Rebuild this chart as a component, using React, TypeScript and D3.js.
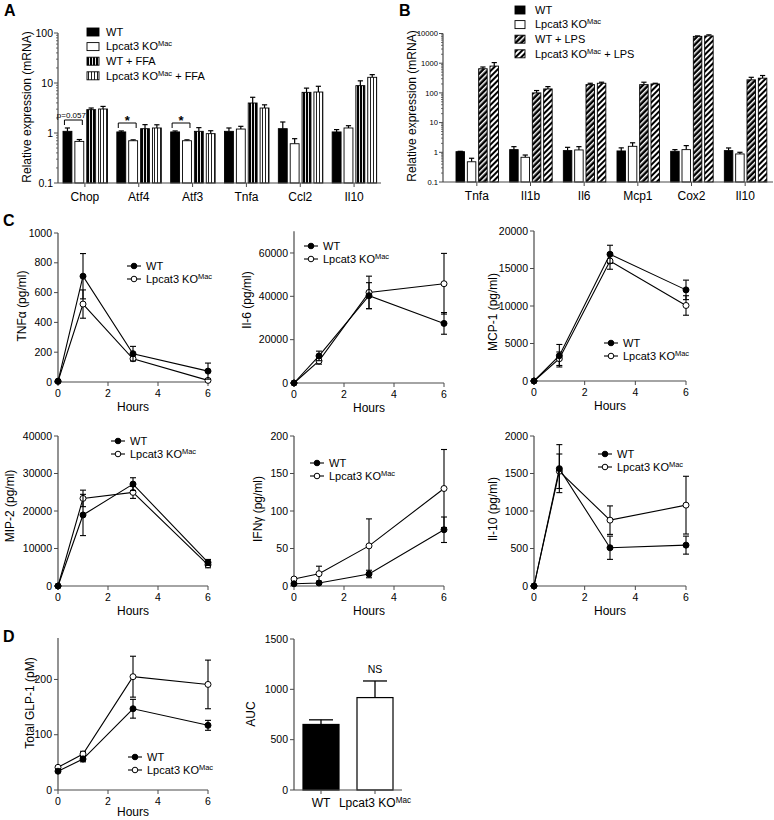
import React from "react";
import * as d3 from "d3";

const FONT = "'Liberation Sans', Arial, Helvetica, sans-serif";
const AX = "#4a4a4a";

// ---------- Panel A ----------
const A_GENES = ["Chop", "Atf4", "Atf3", "Tnfa", "Ccl2", "Il10"];
const A_SERIES = ["WT", "KO", "WT+FFA", "KO+FFA"];
const A_WT = [1.08, 1.05, 1.05, 1.08, 1.22, 1.05];
const A_WT_ERR = [0.18, 0.05, 0.05, 0.18, 0.44, 0.12];
const A_KO = [0.68, 0.7, 0.7, 1.2, 0.61, 1.26];
const A_KO_ERR = [0.06, 0.03, 0.03, 0.16, 0.16, 0.14];
const A_WTFFA = [2.93, 1.22, 1.08, 3.98, 6.5, 8.85];
const A_WTFFA_ERR = [0.23, 0.25, 0.2, 1.2, 1.4, 2.2];
const A_KOFFA = [3.02, 1.26, 0.97, 3.16, 6.6, 13];
const A_KOFFA_ERR = [0.38, 0.2, 0.14, 0.5, 2.0, 1.7];
const A_TICKS = [0.1, 1, 10, 100];

// ---------- Panel B ----------
const B_GENES = ["Tnfa", "Il1b", "Il6", "Mcp1", "Cox2", "Il10"];
const B_SERIES = ["WT", "KO", "WT+LPS", "KO+LPS"];
const B_WT = [1.05, 1.23, 1.14, 1.11, 1.08, 1.14];
const B_WT_ERR = [0.03, 0.32, 0.33, 0.3, 0.15, 0.26];
const B_KO = [0.48, 0.68, 1.2, 1.59, 1.23, 0.88];
const B_KO_ERR = [0.15, 0.13, 0.35, 0.5, 0.45, 0.12];
const B_WTLPS = [650, 100, 190, 190, 8000, 275];
const B_WTLPS_ERR = [95, 20, 21, 39, 300, 60];
const B_KOLPS = [800, 136, 211, 200, 8300, 313];
const B_KOLPS_ERR = [250, 27, 18, 11, 700, 72];
const B_TICKS = [0.1, 1, 10, 100, 1000, 10000];

// ---------- Panel C / D time courses ----------
const HOURS = [0, 1, 3, 6];
const HOUR_TICKS = [0, 2, 4, 6];
const TNF_WT = [5, 710, 190, 73];
const TNF_WT_ERR = [3, 152, 49, 54];
const TNF_KO = [5, 523, 156, 11];
const TNF_KO_ERR = [2, 95, 12, 8];
const IL6_WT = [0, 12500, 40300, 27500];
const IL6_WT_ERR = [300, 2200, 6000, 5000];
const IL6_KO = [0, 10200, 41800, 45800];
const IL6_KO_ERR = [300, 1500, 7500, 14000];
const MCP1_WT = [0, 3370, 16900, 12150];
const MCP1_WT_ERR = [100, 1500, 1200, 1300];
const MCP1_KO = [0, 2970, 16000, 10070];
const MCP1_KO_ERR = [100, 900, 1100, 1300];
const MIP2_WT = [0, 18940, 27170, 6280];
const MIP2_WT_ERR = [100, 5500, 1700, 800];
const MIP2_KO = [0, 23360, 24960, 5660];
const MIP2_KO_ERR = [100, 2200, 1600, 800];
const IFNG_WT = [3, 4, 16, 75];
const IFNG_WT_ERR = [1, 1, 5, 17];
const IFNG_KO = [9.3, 16.4, 53.5, 130];
const IFNG_KO_ERR = [2, 10, 36, 52];
const IL10_WT = [0, 1565, 510, 545];
const IL10_WT_ERR = [10, 320, 155, 120];
const IL10_KO = [0, 1530, 878, 1078];
const IL10_KO_ERR = [10, 230, 190, 385];
const GLP_WT = [34, 56, 147, 117];
const GLP_WT_ERR = [2, 5, 17, 9];
const GLP_KO = [41, 65, 205, 191];
const GLP_KO_ERR = [2, 5, 37, 44];
const AUC_GROUPS = ["WT", "KO"];
const AUC_VALUES = [651, 918];
const AUC_ERR = [46, 165];

const KOText = ({ suffix = "" }: { suffix?: string }) => (
  <>
    <tspan>Lpcat3 KO</tspan>
    <tspan dy={-4} fontSize="0.68em">Mac</tspan>
    <tspan dy={4}>{suffix}</tspan>
  </>
);

const fmtLog = (v: number) => (v < 1 ? "0.1" : String(v));

function YLabel({ x, y, children }: any) {
  return (
    <text transform={`translate(${x},${y}) rotate(-90)`} textAnchor="middle" dy="0.35em" fontSize={12}>
      {children}
    </text>
  );
}

function LogBarChart(props: any) {
  const { cats, series, values, errs, fills, yScale, axisX, axisRight, bandRange, inner, ticks, tickFs } = props;
  const band = d3.scaleBand<string>().domain(cats).range(bandRange);
  const sub = d3.scaleBand<string>().domain(series).range(inner).paddingInner(0.25);
  const [ymin, ymax] = yScale.domain();
  const base = yScale(ymin);
  const minor: number[] = [];
  for (let d = ymin; d < ymax * 0.99; d *= 10) for (let k = 2; k <= 9; k++) minor.push(d * k);
  return (
    <g>
      {series.map((s: string, si: number) =>
        cats.map((c: string, ci: number) => {
          const v = values[si][ci];
          const e = errs[si][ci];
          const x = (band(c) as number) + (sub(s) as number);
          const w = sub.bandwidth();
          const cx = x + w / 2;
          return (
            <g key={s + c}>
              <line x1={cx} x2={cx} y1={yScale(v)} y2={yScale(v + e)} stroke="#000" strokeWidth={1.2} />
              <line x1={cx - 2.6} x2={cx + 2.6} y1={yScale(v + e)} y2={yScale(v + e)} stroke="#000" strokeWidth={1.2} />
              <rect x={x} y={yScale(v)} width={w} height={base - yScale(v)} fill={fills[si]} stroke="#000" strokeWidth={0.9} />
            </g>
          );
        })
      )}
      <line x1={axisX} x2={axisX} y1={base} y2={yScale(ymax)} stroke={AX} strokeWidth={1.2} />
      <line x1={axisX} x2={axisRight} y1={base} y2={base} stroke={AX} strokeWidth={1.2} />
      {minor.map((m) => (
        <line key={m} x1={axisX - 2} x2={axisX} y1={yScale(m)} y2={yScale(m)} stroke={AX} strokeWidth={0.8} />
      ))}
      {ticks.map((t: number) => (
        <g key={t}>
          <line x1={axisX - 4} x2={axisX} y1={yScale(t)} y2={yScale(t)} stroke={AX} strokeWidth={1} />
          <text x={axisX - 5} y={yScale(t)} dy="0.35em" textAnchor="end" fontSize={tickFs}>
            {fmtLog(t)}
          </text>
        </g>
      ))}
      {cats.map((c: string) => {
        const cx = (band(c) as number) + band.bandwidth() / 2;
        return (
          <g key={c}>
            <line x1={cx} x2={cx} y1={base} y2={base + 4} stroke={AX} strokeWidth={1} />
            <text x={cx} y={base + 18} textAnchor="middle" fontSize={12}>
              {c}
            </text>
          </g>
        );
      })}
    </g>
  );
}

function LinePanel(props: any) {
  const { xr, y0, yTopPx, ymax, yticks, wt, wtE, ko, koE, leg, hoursDy = 29 } = props;
  const x = d3.scaleLinear().domain([0, 6]).range(xr);
  const y = d3.scaleLinear().domain([0, ymax]).range([y0, yTopPx]);
  const line = d3
    .line<number>()
    .x((_, i) => x(HOURS[i]))
    .y((d) => y(d));
  const series = [
    { v: ko, e: koE, fill: "#fff" },
    { v: wt, e: wtE, fill: "#000" },
  ];
  return (
    <g>
      <line x1={xr[0]} x2={xr[0]} y1={y0} y2={y(ymax)} stroke={AX} strokeWidth={1.2} />
      <line x1={xr[0]} x2={xr[1]} y1={y0} y2={y0} stroke={AX} strokeWidth={1.2} />
      {yticks.map((t: number) => (
        <g key={t}>
          <line x1={xr[0] - 4} x2={xr[0]} y1={y(t)} y2={y(t)} stroke={AX} strokeWidth={1} />
          <text x={xr[0] - 6} y={y(t)} dy="0.35em" textAnchor="end" fontSize={10.5}>
            {t}
          </text>
        </g>
      ))}
      {HOUR_TICKS.map((t) => (
        <g key={t}>
          <line x1={x(t)} x2={x(t)} y1={y0} y2={y0 + 4} stroke={AX} strokeWidth={1} />
          <text x={x(t)} y={y0 + 15} textAnchor="middle" fontSize={10.5}>
            {t}
          </text>
        </g>
      ))}
      <text x={(xr[0] + xr[1]) / 2} y={y0 + hoursDy} textAnchor="middle" fontSize={12}>
        Hours
      </text>
      {series.map((s, si) => (
        <g key={si}>
          <path d={line(s.v) as string} fill="none" stroke="#000" strokeWidth={1.1} />
          {s.v.map((v: number, i: number) => {
            const cx = x(HOURS[i]);
            const e = s.e[i];
            return (
              <g key={i}>
                <line x1={cx} x2={cx} y1={y(v - e)} y2={y(v + e)} stroke="#000" strokeWidth={1.1} />
                <line x1={cx - 3} x2={cx + 3} y1={y(v + e)} y2={y(v + e)} stroke="#000" strokeWidth={1.1} />
                <line x1={cx - 3} x2={cx + 3} y1={y(v - e)} y2={y(v - e)} stroke="#000" strokeWidth={1.1} />
              </g>
            );
          })}
          {s.v.map((v: number, i: number) => (
            <circle key={"m" + i} cx={x(HOURS[i])} cy={y(v)} r={3} fill={s.fill} stroke="#000" strokeWidth={1} />
          ))}
        </g>
      ))}
      <Legend x={leg[0]} y={leg[1]} />
    </g>
  );
}

function Legend({ x, y }: { x: number; y: number }) {
  const rows = [
    { fill: "#000", label: <tspan>WT</tspan> },
    { fill: "#fff", label: <KOText /> },
  ];
  return (
    <g>
      {rows.map((r, i) => (
        <g key={i} transform={`translate(${x},${y + i * 13})`}>
          <line x1={0} x2={14} y1={0} y2={0} stroke="#000" strokeWidth={1.1} />
          <circle cx={7} cy={0} r={2.8} fill={r.fill} stroke="#000" strokeWidth={1} />
          <text x={19} y={0} dy="0.35em" fontSize={11}>
            {r.label}
          </text>
        </g>
      ))}
    </g>
  );
}

function BarLegend({ x, textX, y, w, fills, labels }: any) {
  return (
    <g>
      {labels.map((l: any, i: number) => (
        <g key={i}>
          <rect x={x} y={y + i * 14.6 - 4} width={w} height={8} fill={fills[i]} stroke="#000" strokeWidth={0.9} />
          <text x={textX} y={y + i * 14.6} dy="0.35em" fontSize={11}>
            {l}
          </text>
        </g>
      ))}
    </g>
  );
}

export default function App() {
  const yA = d3.scaleLog().domain([0.1, 100]).range([183, 33]);
  const yB = d3.scaleLog().domain([0.1, 10000]).range([182, 33.5]);
  const bandA = d3.scaleBand<string>().domain(A_GENES).range([58, 381]);
  const subA = d3.scaleBand<string>().domain(A_SERIES).range([5, 49.5]).paddingInner(0.25);
  const barC = (g: string, s: string) => (bandA(g) as number) + (subA(s) as number) + subA.bandwidth() / 2;

  const fillsA = ["#000", "#fff", "url(#vDark)", "url(#vLight)"];
  const fillsB = ["#000", "#fff", "url(#dDark)", "url(#dLight)"];

  const aucX = d3.scaleBand<string>().domain(AUC_GROUPS).range([294, 402]).paddingInner(1 / 3).paddingOuter(1 / 6);
  const aucY = d3.scaleLinear().domain([0, 1500]).range([790, 639]);

  return (
    <svg
      width={774}
      height={820}
      style={{ position: "absolute", left: 0, top: 0, background: "#fff" }}
      fontFamily={FONT}
      fill="#000"
    >
      <defs>
        <pattern id="vDark" width={3} height={3} patternUnits="userSpaceOnUse">
          <rect width={3} height={3} fill="#000" />
          <rect x={2} width={0.9} height={3} fill="#fff" />
        </pattern>
        <pattern id="vLight" width={3} height={3} patternUnits="userSpaceOnUse">
          <rect width={3} height={3} fill="#fff" />
          <rect x={1} width={1} height={3} fill="#222" />
        </pattern>
        <pattern id="dDark" width={4} height={4} patternUnits="userSpaceOnUse" patternTransform="rotate(45)">
          <rect width={4} height={4} fill="#000" />
          <rect x={0} width={1.5} height={4} fill="#fff" />
        </pattern>
        <pattern id="dLight" width={4} height={4} patternUnits="userSpaceOnUse" patternTransform="rotate(45)">
          <rect width={4} height={4} fill="#fff" />
          <rect x={0} width={2} height={4} fill="#000" />
        </pattern>
      </defs>

      {/* Panel letters */}
      <text x={4} y={16} fontSize={16} fontWeight="bold">A</text>
      <text x={399} y={16} fontSize={16} fontWeight="bold">B</text>
      <text x={3} y={226} fontSize={16} fontWeight="bold">C</text>
      <text x={3} y={642} fontSize={16} fontWeight="bold">D</text>

      {/* Panel A */}
      <LogBarChart
        cats={A_GENES}
        series={A_SERIES}
        values={[A_WT, A_KO, A_WTFFA, A_KOFFA]}
        errs={[A_WT_ERR, A_KO_ERR, A_WTFFA_ERR, A_KOFFA_ERR]}
        fills={fillsA}
        yScale={yA}
        axisX={58}
        axisRight={381}
        bandRange={[58, 381]}
        inner={[5, 49.5]}
        ticks={A_TICKS}
        tickFs={10.5}
      />
      <YLabel x={27} y={107}>Relative expression (mRNA)</YLabel>
      <BarLegend
        x={87}
        textX={106}
        y={32}
        w={12}
        fills={fillsA}
        labels={[<tspan>WT</tspan>, <KOText />, <tspan>WT + FFA</tspan>, <KOText suffix=" + FFA" />]}
      />
      {[
        { g: "Chop", label: "p=0.057", top: 120, fs: 8, bold: false, ty: 117.5, dx: -2 },
        { g: "Atf4", label: "*", top: 123, fs: 13, bold: true, ty: 125, dx: 0 },
        { g: "Atf3", label: "*", top: 123, fs: 13, bold: true, ty: 125, dx: 0 },
      ].map((a) => {
        const l = barC(a.g, "WT") - 3;
        const r = barC(a.g, "KO") + 3;
        return (
          <g key={a.g}>
            <path d={`M${l},${a.top + 5}V${a.top}H${r}V${a.top + 5}`} fill="none" stroke="#000" strokeWidth={1} />
            <text x={(l + r) / 2 + a.dx} y={a.ty} textAnchor="middle" fontSize={a.fs} fontWeight={a.bold ? "bold" : "normal"}>
              {a.label}
            </text>
          </g>
        );
      })}

      {/* Panel B */}
      <LogBarChart
        cats={B_GENES}
        series={B_SERIES}
        values={[B_WT, B_KO, B_WTLPS, B_KOLPS]}
        errs={[B_WT_ERR, B_KO_ERR, B_WTLPS_ERR, B_KOLPS_ERR]}
        fills={fillsB}
        yScale={yB}
        axisX={443}
        axisRight={773}
        bandRange={[450, 772]}
        inner={[6, 48.5]}
        ticks={B_TICKS}
        tickFs={7.6}
      />
      <YLabel x={412} y={106}>Relative expression (mRNA)</YLabel>
      <BarLegend
        x={515}
        textX={535}
        y={10}
        w={10}
        fills={fillsB}
        labels={[<tspan>WT</tspan>, <KOText />, <tspan>WT + LPS</tspan>, <KOText suffix=" + LPS" />]}
      />

      {/* Panel C row 1 */}
      <LinePanel xr={[58, 208]} y0={382} yTopPx={233} ymax={1000} yticks={[0, 200, 400, 600, 800, 1000]}
        wt={TNF_WT} wtE={TNF_WT_ERR} ko={TNF_KO} koE={TNF_KO_ERR} leg={[127, 266]} />
      <YLabel x={22} y={306}>TNFα (pg/ml)</YLabel>

      <LinePanel xr={[294, 444]} y0={383} yTopPx={231.3} ymax={70000} yticks={[0, 20000, 40000, 60000]}
        wt={IL6_WT} wtE={IL6_WT_ERR} ko={IL6_KO} koE={IL6_KO_ERR} leg={[304, 246]} />
      <YLabel x={247} y={300}>Il-6 (pg/ml)</YLabel>

      <LinePanel xr={[534, 686]} y0={381} yTopPx={231} ymax={20000} yticks={[0, 5000, 10000, 15000, 20000]}
        wt={MCP1_WT} wtE={MCP1_WT_ERR} ko={MCP1_KO} koE={MCP1_KO_ERR} leg={[604, 343]} />
      <YLabel x={493} y={312}>MCP-1 (pg/ml)</YLabel>

      {/* Panel C row 2 */}
      <LinePanel xr={[58, 208]} y0={586} yTopPx={436} ymax={40000} yticks={[0, 10000, 20000, 30000, 40000]}
        wt={MIP2_WT} wtE={MIP2_WT_ERR} ko={MIP2_KO} koE={MIP2_KO_ERR} leg={[111, 441]} />
      <YLabel x={10} y={506}>MIP-2 (pg/ml)</YLabel>

      <LinePanel xr={[294, 444]} y0={586} yTopPx={436} ymax={200} yticks={[0, 50, 100, 150, 200]}
        wt={IFNG_WT} wtE={IFNG_WT_ERR} ko={IFNG_KO} koE={IFNG_KO_ERR} leg={[310, 463]} />
      <YLabel x={258} y={509}>IFNγ (pg/ml)</YLabel>

      <LinePanel xr={[534, 686]} y0={586} yTopPx={436} ymax={2000} yticks={[0, 500, 1000, 1500, 2000]}
        wt={IL10_WT} wtE={IL10_WT_ERR} ko={IL10_KO} koE={IL10_KO_ERR} leg={[598, 454]} />
      <YLabel x={493} y={509}>Il-10 (pg/ml)</YLabel>

      {/* Panel D */}
      <LinePanel xr={[58, 208]} y0={790} yTopPx={638} ymax={275} yticks={[0, 100, 200]}
        wt={GLP_WT} wtE={GLP_WT_ERR} ko={GLP_KO} koE={GLP_KO_ERR} leg={[128, 757]} hoursDy={26} />
      <YLabel x={30} y={703}>Total GLP-1 (pM)</YLabel>

      <g>
        {AUC_GROUPS.map((g, i) => {
          const x = aucX(g) as number;
          const w = aucX.bandwidth();
          const cx = x + w / 2;
          const v = AUC_VALUES[i];
          const e = AUC_ERR[i];
          return (
            <g key={g}>
              <line x1={cx} x2={cx} y1={aucY(v)} y2={aucY(v + e)} stroke="#000" strokeWidth={1.3} />
              <line x1={cx - 12} x2={cx + 12} y1={aucY(v + e)} y2={aucY(v + e)} stroke="#000" strokeWidth={1.3} />
              <rect x={x} y={aucY(v)} width={w} height={aucY(0) - aucY(v)} fill={i === 0 ? "#000" : "#fff"} stroke="#000" strokeWidth={1.2} />
              <line x1={cx} x2={cx} y1={790} y2={794} stroke={AX} strokeWidth={1} />
            </g>
          );
        })}
        <line x1={294} x2={294} y1={790} y2={aucY(1500)} stroke={AX} strokeWidth={1.2} />
        <line x1={294} x2={402} y1={790} y2={790} stroke={AX} strokeWidth={1.2} />
        {[0, 500, 1000, 1500].map((t) => (
          <g key={t}>
            <line x1={290} x2={294} y1={aucY(t)} y2={aucY(t)} stroke={AX} strokeWidth={1} />
            <text x={288} y={aucY(t)} dy="0.35em" textAnchor="end" fontSize={10.5}>
              {t}
            </text>
          </g>
        ))}
        <text x={(aucX("WT") as number) + aucX.bandwidth() / 2} y={807} textAnchor="middle" fontSize={12}>
          WT
        </text>
        <text x={(aucX("KO") as number) + aucX.bandwidth() / 2} y={807} textAnchor="middle" fontSize={12}>
          <KOText />
        </text>
        <text x={(aucX("KO") as number) + aucX.bandwidth() / 2} y={673} textAnchor="middle" fontSize={10.5}>
          NS
        </text>
        <YLabel x={251} y={714}>AUC</YLabel>
      </g>
    </svg>
  );
}
